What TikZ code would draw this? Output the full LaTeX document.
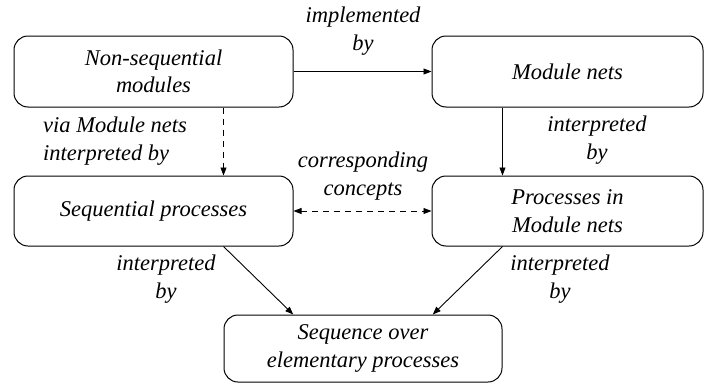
\documentclass[tikz,border=0pt]{standalone}
\usepackage{fontspec}
\setmainfont{Liberation Serif}[ItalicFont={Liberation Serif Italic}]
\usetikzlibrary{arrows.meta,calc}
\begin{document}
\begin{tikzpicture}[x=1pt,y=-1pt,
  box/.style={draw,line width=1pt,rounded corners=14pt,align=center,inner sep=0pt},
  lbl/.style={align=center,inner sep=0pt},
  conn/.style={line width=0.9pt,-{Triangle[length=8pt,width=6pt]}},
  every node/.style={font=\fontsize{22.5pt}{27.5pt}\selectfont\itshape}]
\useasboundingbox (0,0) rectangle (704,383);
\node[box,minimum width=279pt,minimum height=71pt] (A) at (153.5,71.5) {Non-sequential\\modules};
\node[box,minimum width=271pt,minimum height=71pt] (B) at (567.5,71.5) {Module nets};
\node[box,minimum width=279pt,minimum height=70pt] (C) at (153.5,211) {Sequential processes};
\node[box,minimum width=271pt,minimum height=70pt] (D) at (567.5,211) {Processes in\\Module nets};
\node[box,minimum width=278pt,minimum height=67pt] (E) at (363,348.5) {Sequence over\\elementary processes};
\draw[conn] (A.east) -- (B.west);
\draw[conn,dashed,dash pattern=on 6pt off 5pt] (A.south -| E.west) -- (C.north -| E.west);
\draw[conn] (B.south -| E.east) -- (D.north -| E.east);
\draw[conn,dashed,dash pattern=on 6pt off 5pt,{Triangle[length=8pt,width=6pt]}-{Triangle[length=8pt,width=6pt]}] (C.east) -- (D.west);
\draw[conn] (C.south -| E.west) -- ($(E.north west)!0.25!(E.north east)$);
\draw[conn] (D.south -| E.east) -- ($(E.north west)!0.75!(E.north east)$);
\node[lbl] (l1) at (363,31) {implemented\\by};
\node[lbl,align=left,anchor=west] (l2) at (43,141) {via Module nets\\interpreted by};
\node[lbl] (l3) at (597,140) {interpreted\\by};
\node[lbl] (l4) at (363,176) {corresponding\\concepts};
\node[lbl] (l5) at (166,279) {interpreted\\by};
\node[lbl] (l6) at (560,279) {interpreted\\by};
\end{tikzpicture}
\end{document}
